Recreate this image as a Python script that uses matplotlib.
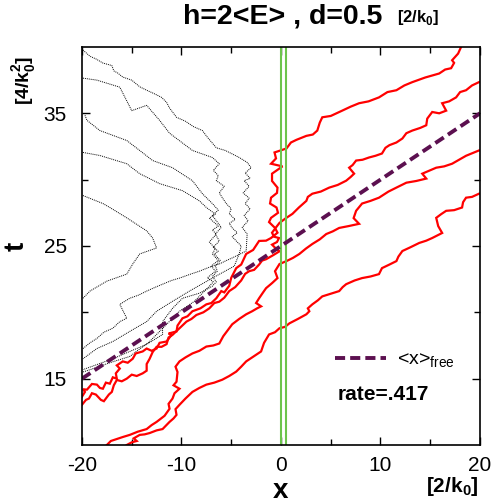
import matplotlib.pyplot as plt

plt.rcParams['font.family'] = ['Liberation Sans', 'DejaVu Sans']
plt.rcParams['axes.unicode_minus'] = False
plt.rcParams['mathtext.fontset'] = 'custom'
plt.rcParams['mathtext.rm'] = 'Liberation Sans'
plt.rcParams['mathtext.bf'] = 'Liberation Sans:bold'

# red trajectories (x, t)
red1_x = [-20, -19.7, -19.9, -19.5, -19.0, -18.5, -18.2, -17.9, -17.6, -17.2, -16.9, -16.5, -16.6,
          -16.2, -16.5, -15.9, -15.4, -14.9, -14.6, -13.9, -13.5, -13.0, -12.5, -12.2, -11.5, -11.0,
          -11.3, -10.5, -10.4, -9.9, -9.4, -8.9, -8.1, -7.5, -7.0, -6.5, -6.0, -5.7, -5.2, -5.0,
          -4.5, -4.0, -3.5, -2.8, -2.2, -1.5, -1.0, -0.35, -0.6, -1.2, -1.0, -0.3, -0.45, -1.1,
          -1.0, -0.4, -0.35, -0.9, -0.9, 0.15, -1.0, -0.5, -0.65, 0.55, 1.0, 1.55, 2.55, 3.2,
          3.65, 3.9, 4.15, 5.0, 6.15, 7.0, 7.85, 8.8, 9.85, 10.7, 11.6, 12.4, 13.2, 14.5, 15.9,
          16.5, 17.1, 17.4, 17.2, 17.8, 18.1]
red1_t = [13.64, 14.0, 14.2, 14.17, 14.6, 14.55, 14.3, 14.24, 14.7, 14.62, 15.1, 15.0, 15.4,
          15.76, 16.0, 16.3, 16.2, 16.5, 16.9, 17.05, 17.27, 17.1, 17.27, 17.7, 17.8, 18.3,
          18.4, 18.56, 19.0, 19.55, 19.7, 20.08, 20.3, 20.6, 20.7, 21.06, 21.6, 21.5, 22.0, 22.6,
          23.33, 23.6, 24.4, 24.7, 25.38, 25.4, 25.6, 26.0, 26.36, 26.8, 27.12, 27.5, 27.9, 28.2,
          28.64, 29.0, 29.4, 29.9, 30.45, 31.0, 31.2, 31.6, 32.05, 32.35, 32.8, 33.0, 33.3, 33.4,
          33.7, 34.3, 34.7, 34.8, 35.2, 35.5, 35.76, 35.9, 36.2, 36.6, 36.74, 37.1, 37.35, 37.7, 38.0,
          38.3, 38.4, 38.8, 39.0, 39.5, 40.0]

red2_x = [-20, -19.6, -19.3, -19.0, -18.6, -18.1, -17.8, -17.3, -17.0, -16.8, -16.5, -16.0, -15.5,
          -15.0, -14.5, -13.9, -13.5, -13.5, -13.2, -12.9, -12.5, -12.0, -11.5, -11.3, -10.9, -10.2,
          -9.5, -9.0, -8.5, -7.8, -7.2, -6.7, -6.2, -5.7, -5.2, -4.6, -4.0, -3.6, -3.2, -2.7, -2.2,
          -1.9, -1.5, -0.8, -0.15, -0.5, -0.9, -0.4, -0.2, -0.7, -0.9, -0.5, -0.15, 0.5, 1.15, 1.8,
          2.55, 2.7, 3.15, 4.0, 4.85, 5.7, 6.55, 7.0, 7.35, 6.85, 7.2, 7.55, 8.2, 8.85, 9.5, 10.15,
          10.5, 10.9, 11.6, 12.2, 12.6, 13.2, 14.0, 14.6, 14.7, 15.2, 15.9, 16.6, 16.2, 16.9, 17.6,
          18.0, 18.6, 19.2, 19.9]
red2_t = [13.03, 13.4, 13.5, 13.9, 13.8, 13.4, 13.3, 13.8, 14.0, 14.5, 14.9, 14.8, 15.0,
          15.3, 15.2, 15.4, 15.6, 16.1, 16.5, 17.0, 17.4, 17.4, 17.6, 18.1, 18.3, 18.8,
          19.3, 19.5, 19.8, 20.0, 20.3, 20.7, 20.8, 21.1, 21.6, 21.9, 22.4, 22.9, 23.1, 23.2, 23.6,
          23.9, 24.0, 24.3, 24.6, 24.8, 25.1, 25.3, 25.6, 25.7, 26.0, 26.4, 26.74, 27.1, 27.42, 27.9,
          28.4, 28.7, 28.94, 29.1, 29.4, 29.6, 29.92, 30.2, 30.45, 30.9, 31.1, 31.44, 31.5, 31.67, 31.8, 31.97,
          32.4, 32.6, 32.8, 33.1, 33.5, 33.7, 33.9, 34.1, 34.6, 35.1, 35.0, 35.2, 35.76, 35.9, 36.2,
          36.6, 36.74, 37.1, 37.35]

red3_x = [-17.5, -17.1, -16.5, -15.9, -15.2, -14.4, -13.5, -13.0, -12.5, -11.7, -11.2, -11.3, -10.9,
          -10.7, -10.2, -10.8, -10.5, -10.4, -10.6, -10.2, -9.6, -8.9, -8.2, -7.5, -6.8, -6.2, -5.8,
          -5.4, -4.9, -4.2, -3.5, -2.9, -2.4, -2.0, -2.5, -2.2, -1.8, -1.5, -0.9, -0.35, -0.6, -0.15,
          0.55, 1.2, 1.85, 2.5, 3.15, 3.9, 4.55, 5.2, 5.85, 6.8, 7.85, 7.3, 7.55, 8.15, 9.0, 9.85,
          10.8, 11.6, 12.6, 13.6, 14.6, 14.2, 15.6, 16.4, 17.2, 18.6, 19.9]
red3_t = [10.0, 10.3, 10.45, 10.6, 10.76, 11.0, 11.2, 11.5, 11.74, 12.2, 12.73, 13.1, 13.5,
          13.9, 14.24, 14.5, 14.77, 15.5, 15.9, 16.3, 16.6, 16.9, 17.1, 17.42, 17.5, 17.65, 18.2,
          18.6, 19.1, 19.5, 19.85, 20.08, 20.3, 20.45, 20.7, 21.06, 21.5, 21.82, 22.2, 22.58, 23.1, 23.64,
          23.86, 24.1, 24.4, 24.8, 25.15, 25.5, 25.9, 26.1, 26.36, 26.5, 26.67, 27.1, 27.65, 28.2, 28.4, 28.64,
          29.1, 29.4, 29.77, 29.9, 30.08, 30.45, 30.9, 31.0, 31.2, 31.8, 32.2]

red4_x = [-15.5, -15.0, -14.5, -14.8, -14.2, -13.7, -13.2, -12.5, -11.9, -11.2, -10.8, -10.5, -10.6,
          -10.2, -9.6, -8.9, -8.2, -7.5, -6.7, -5.9, -5.2, -4.5, -4.0, -3.5, -2.7, -2.0, -1.7, -1.2,
          -0.6, -0.15, 0.4, 0.85, 1.7, 2.55, 2.85, 2.7, 3.15, 3.7, 4.15, 5.0, 5.85, 6.2, 6.55, 7.4,
          8.15, 9.0, 9.85, 10.15, 10.9, 11.6, 11.8, 12.2, 13.0, 13.9, 14.6, 15.2, 16.2, 15.8, 15.6,
          16.1, 16.6, 17.4, 18.2, 18.3, 18.6, 19.2, 19.9]
red4_t = [10.0, 10.2, 10.3, 10.5, 10.76, 10.8, 10.9, 11.1, 11.2, 11.74, 12.0, 12.27, 12.7,
          13.03, 13.5, 14.0, 14.3, 14.55, 14.7, 14.92, 15.2, 15.53, 15.9, 16.3, 16.7, 17.05, 17.7, 18.33,
          18.5, 18.8, 18.9, 19.17, 19.5, 19.85, 20.08, 20.3, 20.6, 20.9, 21.2, 21.4, 21.6, 21.9, 22.12, 22.4,
          22.58, 22.7, 22.88, 23.33, 23.6, 23.86, 24.2, 24.62, 24.9, 25.23, 25.4, 25.6, 25.98, 26.5, 27.12,
          27.4, 27.65, 27.7, 27.9, 28.3, 28.64, 28.7, 28.94]

# black dotted trajectories
blk1_x = [-19.9, -19.2, -18.6, -17.9, -17.0, -16.8, -16.4, -15.9, -15.0, -14.2, -13.5, -12.8, -12.0,
          -11.5, -11.2, -10.5, -9.6, -8.8, -7.9, -7.4, -6.5, -5.6, -4.8, -4.2, -3.4, -3.0, -3.6, -3.1,
          -3.7, -3.2, -3.8, -3.2, -3.6, -3.1, -3.7, -3.3, -3.9, -3.4, -3.5, -4.9, -5.5, -6.2, -7.2,
          -8.2, -9.0, -10.2, -11.0, -11.9, -12.6, -13.5, -14.3, -15.2, -16.2, -15.5, -16.2, -16.9,
          -17.8, -18.5, -19.2, -19.9]
blk1_t = [39.77, 39.3, 39.1, 38.79, 38.6, 38.2, 38.03, 37.73, 37.5, 37.0, 36.74, 36.5, 36.2,
          35.83, 35.4, 34.7, 34.4, 34.0, 33.7, 33.2, 32.4, 32.2, 31.9, 31.67, 31.3, 30.9, 30.5, 30.1,
          29.92, 29.5, 29.0, 28.6, 28.2, 27.8, 27.3, 26.9, 26.4, 25.9, 24.62, 24.1, 23.9, 23.64, 23.4,
          23.1, 22.9, 22.58, 22.4, 22.12, 21.9, 21.6, 21.3, 21.06, 20.6, 19.55, 19.3, 18.8,
          18.5, 18.03, 17.7, 17.27]

blk2_x = [-19.9, -18.5, -16.2, -15.0, -13.5, -12.2, -11.2, -8.9, -6.9, -6.2, -6.8, -6.3, -6.5,
          -5.7, -6.2, -5.9, -5.5, -5.0, -5.2, -4.6, -5.2, -4.9, -4.4, -4.9, -4.5, -4.0, -4.2, -4.7,
          -6.9, -9.2, -10.9, -12.5, -13.5, -15.2, -16.9, -18.5, -19.9]
blk2_t = [37.65, 37.5, 36.97, 35.2, 35.6, 34.47, 33.5, 32.2, 31.67, 31.2, 30.7, 30.3, 29.92,
          29.5, 29.0, 28.64, 28.2, 27.8, 27.42, 27.0, 26.7, 26.36, 26.0, 25.7, 25.38, 25.0, 24.4, 23.48,
          22.58, 21.6, 20.83, 20.08, 19.3, 18.56, 17.8, 17.27, 16.5]

blk3_x = [-19.7, -19.5, -18.2, -15.5, -14.2, -12.9, -10.9, -8.9, -7.9, -6.9, -6.3, -6.9, -6.5,
          -6.0, -6.6, -6.2, -6.8, -6.3, -6.7, -6.1, -6.6, -6.4, -6.9, -6.5, -6.9, -8.2, -9.9, -10.9,
          -11.9, -11.9, -13.5, -15.2, -16.9, -18.5, -19.9]
blk3_t = [34.85, 34.47, 33.7, 32.95, 32.2, 31.44, 30.9, 29.92, 28.94, 28.2, 27.7, 27.3, 26.9,
          26.4, 25.9, 25.38, 24.9, 24.6, 24.4, 23.9, 23.5, 23.1, 22.7, 22.3, 21.97, 21.44, 21.06, 20.3,
          19.3, 18.33, 17.58, 17.05, 16.5, 16.06, 15.68]

blk4_x = [-19.9, -18.2, -15.5, -14.2, -12.2, -9.9, -8.2, -7.5, -6.6, -7.2, -6.9, -6.3, -6.9, -6.5,
          -7.2, -6.6, -6.9, -6.3, -7.0, -6.6, -7.4, -6.8, -7.2, -8.7, -10.2, -11.7, -13.2, -15.2,
          -17.2, -18.7, -19.9]
blk4_t = [32.05, 31.82, 31.2, 30.45, 29.7, 29.17, 28.4, 27.9, 27.4, 27.1, 26.9, 26.5, 26.2, 25.9,
          25.3, 24.8, 24.4, 23.9, 23.5, 23.1, 22.6, 22.3, 21.97, 20.83, 20.08, 18.94, 17.8, 16.67,
          16.2, 15.8, 15.5]

blk5_x = [-19.9, -17.9, -17.2, -15.5, -13.5, -12.9, -12.5, -14.2, -14.9, -15.5, -17.5, -19.2, -19.9]
blk5_t = [28.8, 28.2, 27.9, 27.12, 26.14, 25.6, 24.85, 24.4, 23.64, 22.88, 22.35, 21.6, 21.06]

# free motion <x> and detector walls
free_x = [-20, 20]
free_t = [15, 35]
walls = [0.0, 0.5]

fig = plt.figure(figsize=(4.93, 5.04), dpi=100)
ax = fig.add_axes([0.1663, 0.1171, 0.8073, 0.7897])

for bx, bt in [(blk1_x, blk1_t), (blk2_x, blk2_t), (blk3_x, blk3_t),
               (blk4_x, blk4_t), (blk5_x, blk5_t)]:
    ax.plot(bx, bt, color='black', linestyle=(0, (1, 1)), linewidth=0.7)

for rx, rt in [(red1_x, red1_t), (red2_x, red2_t), (red3_x, red3_t), (red4_x, red4_t)]:
    ax.plot(rx, rt, color='#ff0000', linewidth=1.6, solid_joinstyle='miter')

for w in walls:
    ax.axvline(w, color='#6cc44c', linewidth=1.5)

ax.plot(free_x, free_t, color='#5c1050', linewidth=2.8, dashes=(2.6, 1.3),
        label='<x>$_{\\mathrm{free}}$')

ax.set_xlim(-20, 20)
ax.set_ylim(10, 40)
ax.set_xticks([-20, -10, 0, 10, 20])
ax.set_xticks([-15, -5, 5, 15], minor=True)
ax.set_yticks([15, 25, 35])
ax.set_yticks([20, 30], minor=True)
ax.tick_params(which='both', direction='in', top=True, right=True, labelsize=15, width=1)
ax.tick_params(which='major', length=6)
ax.tick_params(which='minor', length=4)
ax.tick_params(axis='x', pad=8)
ax.tick_params(axis='y', pad=11)
for s in ax.spines.values():
    s.set_linewidth(1.2)

ax.set_xlabel('x', fontsize=20, fontweight='bold', labelpad=2)
ax.set_ylabel('t', fontsize=20, fontweight='bold', labelpad=10)

ax.legend(loc='center left', bbox_to_anchor=(0.592, 0.211), frameon=False, fontsize=14,
          handlelength=2.6, handletextpad=0.6)
ax.text(0.643, 0.126, 'rate=.417', transform=ax.transAxes, fontsize=15, fontweight='bold',
        va='center', ha='left')

fig.text(0.371, 0.968, 'h=2<E> , d=0.5', fontsize=20.5, fontweight='bold', va='center', ha='left')
fig.text(0.805, 0.966, '[2/k$_{\\mathbf{0}}$]', fontsize=12, fontweight='bold', va='center', ha='left')
fig.text(0.917, 0.034, '[2/k$_{\\mathbf{0}}$]', fontsize=15, fontweight='bold', va='center', ha='center')
fig.text(0.05, 0.84, '[4/k$_{\\mathbf{0}}^{\\mathbf{2}}$]', fontsize=14, fontweight='bold', va='center',
         ha='center', rotation=90)

fig.savefig('out.png', dpi=100)
